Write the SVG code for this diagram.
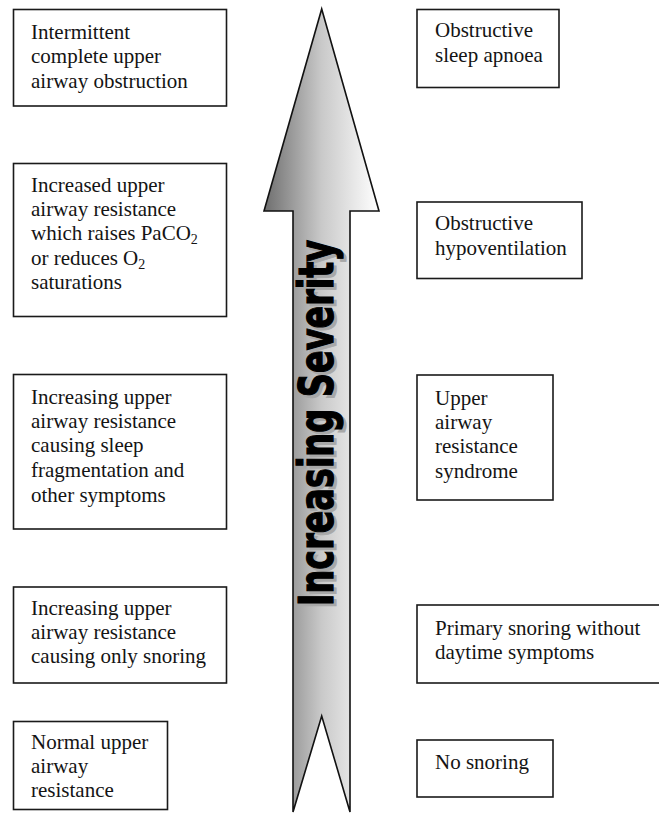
<svg xmlns="http://www.w3.org/2000/svg" width="659" height="814" viewBox="0 0 659 814">
<defs>
<linearGradient id="arrowGrad" gradientUnits="userSpaceOnUse" x1="264" y1="0" x2="379" y2="0">
<stop offset="0" stop-color="#6e6e6e"/>
<stop offset="0.5" stop-color="#c9c9c9"/>
<stop offset="1" stop-color="#ffffff"/>
</linearGradient>
<style>
.box{fill:#ffffff;stroke:#1a1a1a;stroke-width:1.6}
.t{font-family:"Liberation Serif","Times New Roman",serif;font-size:21px;fill:#141414}
.sub{font-size:14px}
.sev{font-family:"Liberation Sans Narrow","DejaVu Sans Condensed","Liberation Sans",sans-serif;font-weight:bold;font-size:48px}
</style>
</defs>
<rect width="659" height="814" fill="#ffffff"/>
<g id="severity-arrow">
<path d="M321.7,9 L379,211 L350,211 L350,812 L321.7,716 L293,812 L293,211 L264,211 Z" fill="url(#arrowGrad)" stroke="#111" stroke-width="1.6" stroke-linejoin="miter"/>
<text class="sev" transform="translate(336,609) rotate(-90)" textLength="366" lengthAdjust="spacingAndGlyphs" fill="#a8a8a8" stroke="#a8a8a8" stroke-width="1">Increasing Severity</text>
<text class="sev" transform="translate(333,606) rotate(-90)" textLength="366" lengthAdjust="spacingAndGlyphs" fill="#000" stroke="#000" stroke-width="1.2">Increasing Severity</text>
</g>
<g id="left-1">
<rect class="box" x="13.5" y="9.5" width="213" height="96.5"/>
<text class="t" x="31" y="38.5">Intermittent</text>
<text class="t" x="31" y="63">complete upper</text>
<text class="t" x="31" y="87.5">airway obstruction</text>
</g>
<g id="left-2">
<rect class="box" x="13.5" y="163.5" width="213" height="153"/>
<text class="t" x="31" y="191.5">Increased upper</text>
<text class="t" x="31" y="215.5">airway resistance</text>
<text class="t" x="31" y="240">which raises PaCO<tspan class="sub" dy="4">2</tspan></text>
<text class="t" x="31" y="264.5">or reduces O<tspan class="sub" dy="4">2</tspan></text>
<text class="t" x="31" y="288.5">saturations</text>
</g>
<g id="left-3">
<rect class="box" x="13.5" y="374.5" width="213" height="154.5"/>
<text class="t" x="31" y="404">Increasing upper</text>
<text class="t" x="31" y="428">airway resistance</text>
<text class="t" x="31" y="452">causing sleep</text>
<text class="t" x="31" y="477">fragmentation and</text>
<text class="t" x="31" y="501.5">other symptoms</text>
</g>
<g id="left-4">
<rect class="box" x="13.5" y="587" width="213" height="96"/>
<text class="t" x="31" y="615">Increasing upper</text>
<text class="t" x="31" y="639">airway resistance</text>
<text class="t" x="31" y="663">causing only snoring</text>
</g>
<g id="left-5">
<rect class="box" x="13.5" y="721.5" width="154" height="88"/>
<text class="t" x="31" y="749">Normal upper</text>
<text class="t" x="31" y="773">airway</text>
<text class="t" x="31" y="797">resistance</text>
</g>
<g id="right-1">
<rect class="box" x="417" y="9.5" width="142" height="78"/>
<text class="t" x="435" y="37">Obstructive</text>
<text class="t" x="435" y="61.5">sleep apnoea</text>
</g>
<g id="right-2">
<rect class="box" x="417" y="202" width="165" height="76.5"/>
<text class="t" x="435" y="230">Obstructive</text>
<text class="t" x="435" y="255">hypoventilation</text>
</g>
<g id="right-3">
<rect class="box" x="417" y="375" width="136" height="125"/>
<text class="t" x="435" y="405">Upper</text>
<text class="t" x="435" y="429">airway</text>
<text class="t" x="435" y="453">resistance</text>
<text class="t" x="435" y="478">syndrome</text>
</g>
<g id="right-4">
<rect class="box" x="417" y="605" width="250" height="78"/>
<text class="t" x="435" y="635">Primary snoring without</text>
<text class="t" x="435" y="659">daytime symptoms</text>
</g>
<g id="right-5">
<rect class="box" x="417" y="740" width="136" height="57"/>
<text class="t" x="435" y="769">No snoring</text>
</g>
<g id="connectors"/>
</svg>
